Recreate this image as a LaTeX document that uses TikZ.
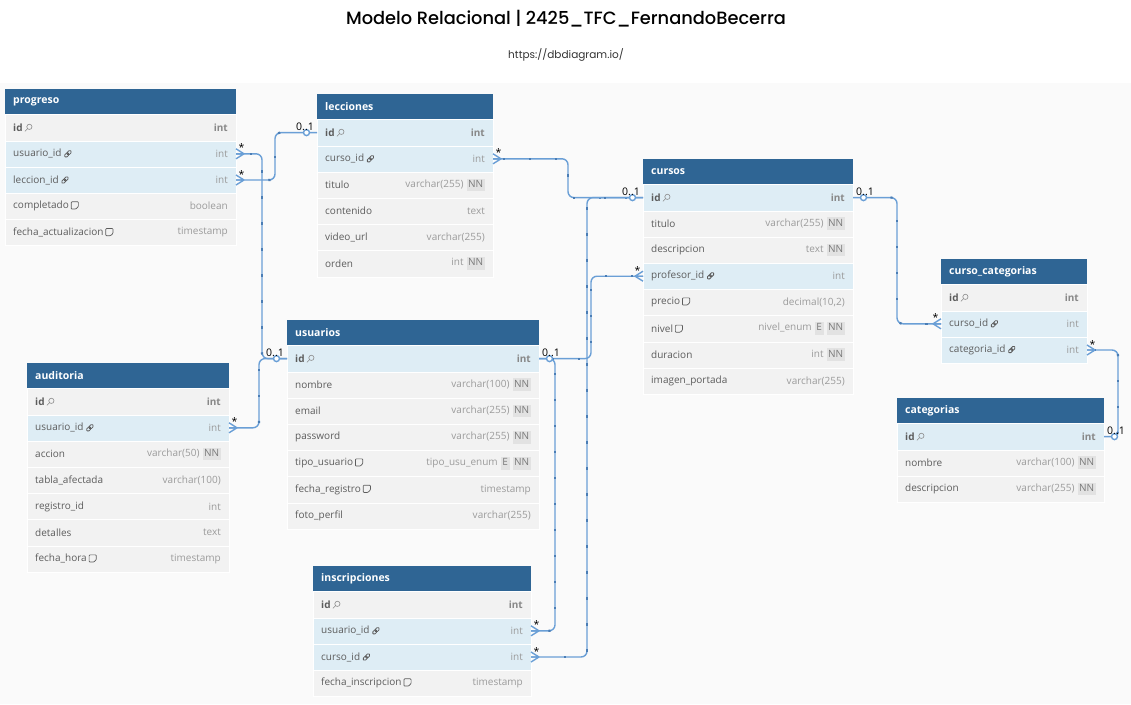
\documentclass[tikz,border=0pt]{standalone}
\usepackage{fontspec}
\setmainfont{Open Sans}
\newfontfamily\titlefont{Poppins}[UprightFont=* Medium]
\newfontfamily\urlfont{Poppins}
\usetikzlibrary{calc, decorations.markings}

\definecolor{headblue}{HTML}{2F6594}
\definecolor{rowgray}{HTML}{F2F2F2}
\definecolor{rowblue}{HTML}{DEEDF5}
\definecolor{canvasgray}{HTML}{FAFAFA}
\definecolor{nametext}{HTML}{5C5C5C}
\definecolor{typetext}{HTML}{9B9B9B}
\definecolor{pktext}{HTML}{888888}
\definecolor{badgegray}{HTML}{E2E2E2}
\definecolor{badgetext}{HTML}{7A7A7A}
\definecolor{icongray}{HTML}{8A8A8A}
\definecolor{connblue}{HTML}{6A9FD6}
\definecolor{conndot}{HTML}{4A7DB5}

% small glyphs drawn in the field rows
\newcommand{\keyicon}{\kern2pt\tikz[baseline=-3pt]{\draw[icongray, line width=0.6pt] (1.3pt,1.3pt) circle (2.6pt); \draw[icongray, line width=0.6pt] (-0.5pt,-0.5pt) -- (-3.2pt,-3.2pt);}}
\newcommand{\linkicon}{\kern2pt\tikz[baseline=-3pt]{\draw[nametext, line width=0.8pt, rotate=45, rounded corners=1.2pt] (-4pt,-1.5pt) rectangle (0.7pt,1.5pt) (-0.7pt,-1.5pt) rectangle (4pt,1.5pt);}}
\newcommand{\noteicon}{\kern2pt\tikz[baseline=-3.4pt]{\draw[nametext, line width=0.7pt, rounded corners=0.8pt] (-3.6pt,-3.6pt) -- (-3.6pt,3.6pt) -- (3.6pt,3.6pt) -- (3.6pt,-1.2pt) -- (1.2pt,-3.6pt) -- cycle;}}
\newcommand{\badge}[1]{\kern3pt{\setlength{\fboxsep}{1.6pt}\colorbox{badgegray}{\color{badgetext}\vphantom{Ng}#1}}}
\newcommand{\nn}{\badge{NN}}
\newcommand{\eb}{\badge{E}}
\newcommand{\pkname}{{\bfseries\color{nametext}id}\keyicon}
\newcommand{\pkint}{{\bfseries\color{pktext}int}}

% one table: id, x, top, width, title, rows (name/type/fill)
\newcommand{\dbtable}[6]{%
  \node[tablehead, minimum width=#4, anchor=north west] (#1-h) at (#2,#3) {};
  \node[headtext, anchor=west] at ([xshift=8pt]#1-h.west) {#5};
  \foreach \fname/\ftype/\fcol [count=\i] in {#6} {
    \node[fieldrow, fill=\fcol, minimum width=#4, anchor=north west] (#1-\i) at (#2,{#3+25.5+(\i-1)*26.2}) {};
    \node[fieldname, anchor=west] at ([xshift=8pt]#1-\i.west) {\fname};
    \node[fieldtype, anchor=east] at ([xshift=-8pt]#1-\i.east) {\ftype};
  }
}

% cardinality ends: anchor, side (1 = right of table, -1 = left)
\newcommand{\manyend}[2]{%
  \begin{scope}[shift={(#1)}, xscale=#2]
    \draw[endmark] (8,0) -- (0,-5) (8,0) -- (0,0) (8,0) -- (0,5);
    \node[cardlabel, anchor=base] at (5.5,-2) {*};
  \end{scope}}
\newcommand{\oneend}[2]{%
  \begin{scope}[shift={(#1)}, xscale=#2]
    \draw[endmark, fill=white] (10.5,0) circle (3);
    \node[cardlabel, anchor=base] at (12,-2.5) {0..1};
  \end{scope}}

\begin{document}
\begin{tikzpicture}[x=1pt, y=-1pt,
    tablehead/.style={fill=headblue, minimum height=25.5, inner sep=0, outer sep=0},
    headtext/.style={text=white, font=\fontsize{10.5}{12}\selectfont\bfseries, inner sep=0},
    fieldrow/.style={minimum height=26.2, inner sep=0, outer sep=0, draw=white, line width=0.3pt},
    fieldname/.style={text=nametext, font=\fontsize{10}{12}\selectfont, inner sep=0},
    fieldtype/.style={text=typetext, font=\fontsize{10}{12}\selectfont, inner sep=0},
    cardlabel/.style={text=black, font=\fontsize{10.5}{12}\selectfont, inner sep=0},
    conn/.style={draw=connblue, line width=1.4pt, rounded corners=6pt},
    withdots/.style={postaction={decorate, decoration={markings,
      mark=between positions 0.06 and 0.96 step 26pt with {\path[fill=conndot, draw=none, sharp corners] (-1.1pt,-1.1pt) rectangle (1.1pt,1.1pt);}}}},
    endmark/.style={draw=connblue, line width=1.4pt}]

  \useasboundingbox (0,0) rectangle (1131,704);
  \fill[canvasgray] (0,83) rectangle (1131,704);

  % title
  \node[font=\titlefont\fontsize{17.8}{20}\selectfont] (title) at (566,19) {Modelo Relacional | 2425\_TFC\_FernandoBecerra};
  \node[font=\urlfont\fontsize{10.5}{12}\selectfont, text=black!80] (url) at (566,55) {https://dbdiagram.io/};

  % tables
  \dbtable{prog}{5}{89}{231}{progreso}{
    \pkname/\pkint/rowgray,
    usuario\_id\linkicon/int/rowblue,
    leccion\_id\linkicon/int/rowblue,
    completado\noteicon/boolean/rowgray,
    fecha\_actualizacion\noteicon/timestamp/rowgray}
  \dbtable{lec}{317}{94}{176}{lecciones}{
    \pkname/\pkint/rowblue,
    curso\_id\linkicon/int/rowblue,
    titulo/varchar(255)\nn/rowgray,
    contenido/text/rowgray,
    video\_url/varchar(255)/rowgray,
    orden/int\nn/rowgray}
  \dbtable{cur}{643}{159}{210}{cursos}{
    \pkname/\pkint/rowblue,
    titulo/varchar(255)\nn/rowgray,
    descripcion/text\nn/rowgray,
    profesor\_id\linkicon/int/rowblue,
    precio\noteicon/{decimal(10,2)}/rowgray,
    nivel\noteicon/nivel\_enum\eb\nn/rowgray,
    duracion/int\nn/rowgray,
    imagen\_portada/varchar(255)/rowgray}
  \dbtable{cc}{941}{259}{146}{curso\_categorias}{
    \pkname/\pkint/rowgray,
    curso\_id\linkicon/int/rowblue,
    categoria\_id\linkicon/int/rowblue}
  \dbtable{cat}{897}{398}{207}{categorias}{
    \pkname/\pkint/rowblue,
    nombre/varchar(100)\nn/rowgray,
    descripcion/varchar(255)\nn/rowgray}
  \dbtable{usr}{287}{320}{252}{usuarios}{
    \pkname/\pkint/rowblue,
    nombre/varchar(100)\nn/rowgray,
    email/varchar(255)\nn/rowgray,
    password/varchar(255)\nn/rowgray,
    tipo\_usuario\noteicon/tipo\_usu\_enum\eb\nn/rowgray,
    fecha\_registro\noteicon/timestamp/rowgray,
    foto\_perfil/varchar(255)/rowgray}
  \dbtable{aud}{27}{363}{202}{auditoria}{
    \pkname/\pkint/rowgray,
    usuario\_id\linkicon/int/rowblue,
    accion/varchar(50)\nn/rowgray,
    tabla\_afectada/varchar(100)/rowgray,
    registro\_id/int/rowgray,
    detalles/text/rowgray,
    fecha\_hora\noteicon/timestamp/rowgray}
  \dbtable{ins}{313}{566}{218}{inscripciones}{
    \pkname/\pkint/rowgray,
    usuario\_id\linkicon/int/rowblue,
    curso\_id\linkicon/int/rowblue,
    fecha\_inscripcion\noteicon/timestamp/rowgray}

  % relationships
  \draw[conn, withdots] (prog-2.east) -- ++(26,0) |- (usr-1.west);
  \draw[conn, withdots] (prog-3.east) -- ++(39,0) |- (lec-1.west);
  \draw[conn, withdots] (aud-2.east) -- ++(30,0) |- (usr-1.west);
  \draw[conn, withdots] (lec-2.east) -- ++(75,0) |- (cur-1.west);
  \draw[conn, withdots] (cur-4.west) -- ++(-52,0) |- (usr-1.east);
  \draw[conn, withdots] (ins-2.east) -- ++(24,0) |- (usr-1.east);
  \draw[conn, withdots] (ins-3.east) -- ++(56,0) |- (cur-1.west);
  \draw[conn, withdots] (cur-1.east) -- ++(44,0) |- (cc-2.west);
  \draw[conn, withdots] (cc-3.east) -- ++(31,0) |- (cat-1.east);

  % cardinalities
  \manyend{prog-2.east}{1}
  \manyend{prog-3.east}{1}
  \manyend{aud-2.east}{1}
  \manyend{lec-2.east}{1}
  \manyend{cur-4.west}{-1}
  \manyend{ins-2.east}{1}
  \manyend{ins-3.east}{1}
  \manyend{cc-2.west}{-1}
  \manyend{cc-3.east}{1}
  \oneend{usr-1.west}{-1}
  \oneend{lec-1.west}{-1}
  \oneend{cur-1.west}{-1}
  \oneend{usr-1.east}{1}
  \oneend{cur-1.east}{1}
  \oneend{cat-1.east}{1}
\end{tikzpicture}
\end{document}
